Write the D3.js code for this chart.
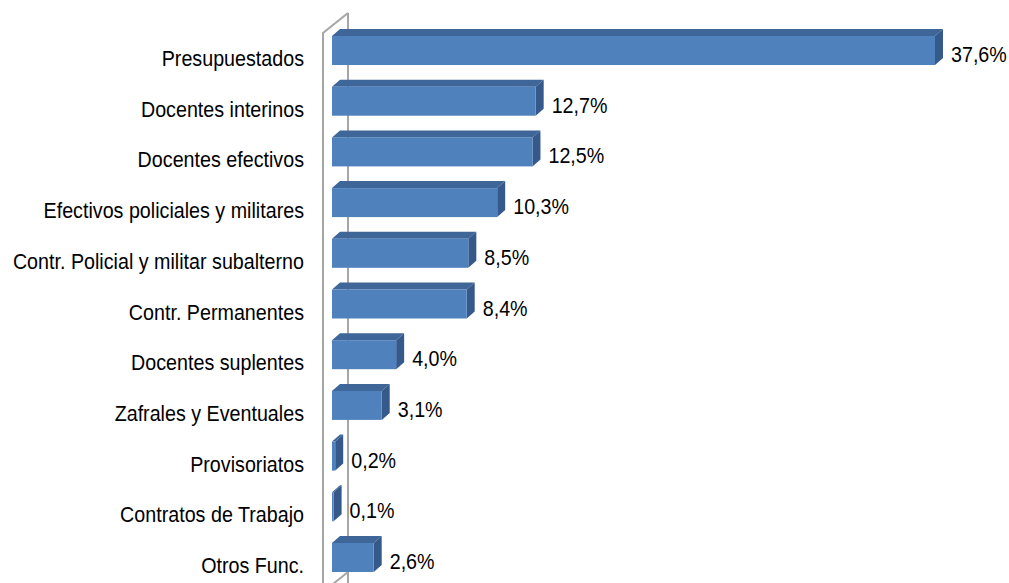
<!DOCTYPE html>
<html><head><meta charset="utf-8">
<script src="https://cdn.jsdelivr.net/npm/d3@7"></script>
<style>body{margin:0;background:#fff}svg{display:block}</style>
</head><body>
<svg id="c" width="1009" height="583"></svg>
<script>
const categories = ["Presupuestados","Docentes interinos","Docentes efectivos","Efectivos policiales y militares","Contr. Policial y militar subalterno","Contr. Permanentes","Docentes suplentes","Zafrales y Eventuales","Provisoriatos","Contratos de Trabajo","Otros Func."];
const values = [37.6,12.7,12.5,10.3,8.5,8.4,4.0,3.1,0.2,0.1,2.6];
const valueLabels = ["37,6%","12,7%","12,5%","10,3%","8,5%","8,4%","4,0%","3,1%","0,2%","0,1%","2,6%"];

const svg = d3.select("#c");
const x = d3.scaleLinear().domain([0, 37.6]).range([332, 935]);
const y = d3.scaleBand().domain(categories).range([25.15, 582.85]).paddingInner(0.428).paddingOuter(0.214);
const dx = 8, dy = 7;
const font = "'Liberation Sans', Arial, sans-serif";

// wall
const wall = svg.append("g").attr("fill","none").attr("stroke","#A6A6A6").attr("stroke-width",2);
wall.append("path").attr("d","M348,13 L348,583");
wall.append("path").attr("d","M323,590 L323,33 L348,13");
wall.append("path").attr("d","M323,592 L348,572");

const g = svg.append("g");
categories.forEach((c,i)=>{
  const x0 = x(0), x1 = x(values[i]), t = y(c), b = t + y.bandwidth();
  g.append("path").attr("d",`M${x0},${t} L${x0+dx},${t-dy} L${x1+dx},${t-dy} L${x1},${t} Z`).attr("fill","#3E6698");
  g.append("path").attr("d",`M${x1},${t} L${x1+dx},${t-dy} L${x1+dx},${b-dy} L${x1},${b} Z`).attr("fill","#35598A");
  g.append("rect").attr("x",x0).attr("y",t).attr("width",Math.max(0,x1-x0)).attr("height",y.bandwidth()).attr("fill","#4F81BD");
  svg.append("text").attr("transform",`translate(${x1+dx+8},${t+y.bandwidth()/2+11.5}) scale(1,1.12)`)
    .attr("font-family",font).attr("font-size",19.7).attr("fill","#000").text(valueLabels[i]);
  svg.append("text").attr("transform",`translate(304,${t+y.bandwidth()/2+15.5}) scale(1,1.12)`).attr("text-anchor","end")
    .attr("font-family",font).attr("font-size",19.7).attr("fill","#000").text(c);
});
</script>
</body></html>
